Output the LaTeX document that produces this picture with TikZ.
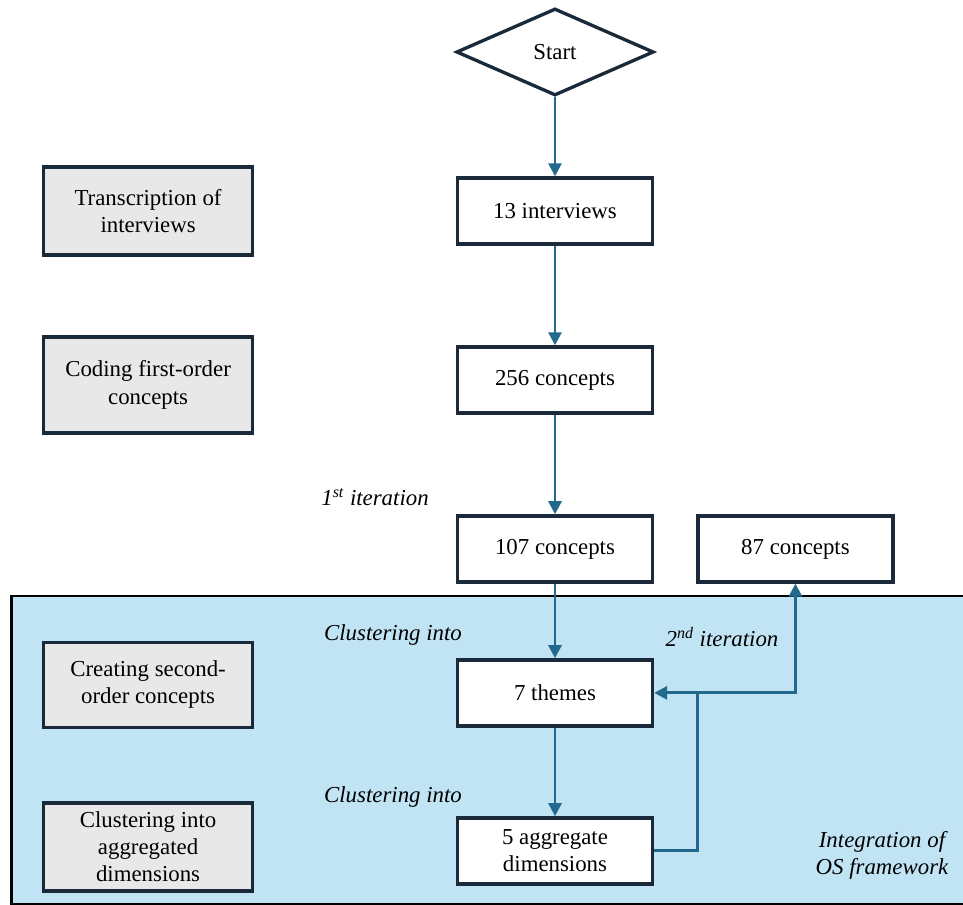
\documentclass[tikz,border=0pt]{standalone}
\usepackage{fontspec}
\setmainfont{Liberation Serif}
\usetikzlibrary{arrows.meta}
\usetikzlibrary{shapes.geometric}

\definecolor{boxline}{HTML}{1B2A3A}
\definecolor{flowblue}{HTML}{22698D}
\definecolor{osblue}{HTML}{C1E4F5}
\definecolor{phasegray}{HTML}{E8E8E8}
\newcommand\flowfont{\fontsize{13}{15.5}\selectfont}

\tikzset{
  count/.style={draw=boxline,line width=1.9pt,fill=white,minimum width=3.9cm,minimum height=1.32cm,align=center,font=\flowfont},
  phase/.style={draw=boxline,line width=1.9pt,fill=phasegray,minimum width=4.18cm,align=center,font=\flowfont},
  note/.style={align=center,font=\flowfont\itshape},
  flow/.style={->,draw=flowblue,line width=1.6pt}
}

\begin{document}
\begin{tikzpicture}[x=0.02cm,y=-0.02cm,>={Triangle[length=0.26cm,width=0.26cm]}]
      \useasboundingbox (0,0) rectangle (963,905);
      % OS framework region
      \draw[fill=osblue,line width=1.5pt] (11.5,596) rectangle (980,904);

      \node (start) [diamond,draw=boxline,line width=1.9pt,fill=white,minimum width=3.95cm,minimum height=1.74cm,inner sep=0pt,font=\flowfont] at (555,52) {Start};
      \node (interviews) [count,below of=start,node distance=3.18cm] {13 interviews};
      \node (c256) [count,below of=interviews,node distance=3.38cm] {256 concepts};
      \node (c107) [count,below of=c256,node distance=3.38cm] {107 concepts};
      \node (c87) [count,right of=c107,node distance=4.81cm] {87 concepts};
      \node (themes) [count,below of=c107,node distance=2.88cm] {7 themes};
      \node (agg) [count,below of=themes,node distance=3.16cm] {5 aggregate\\dimensions};

      \node (transcr) [phase,minimum height=1.76cm,left of=interviews,node distance=8.14cm] {Transcription of\\interviews};
      \node (coding) [phase,minimum height=1.92cm,left of=c256,node distance=8.14cm,yshift=-0.1cm] {Coding first-order\\concepts};
      \node (second) [phase,minimum height=1.7cm,left of=themes,node distance=8.14cm,yshift=0.16cm] {Creating second-\\order concepts};
      \node (aggdim) [phase,minimum height=1.76cm,left of=agg,node distance=8.14cm,yshift=0.08cm] {Clustering into\\aggregated\\dimensions};

      \node (iter1) [note] at (375,497) {1\textsuperscript{st} iteration};
      \node (clus1) [note] at (393,635) {Clustering into};
      \node (iter2) [note] at (722,637) {2\textsuperscript{nd} iteration};
      \node (clus2) [note] at (393,797) {Clustering into};
      \node (osint) [note] at (882,855) {Integration of\\OS framework};

      \draw[flow] (start) -- (interviews);
      \draw[flow] (interviews) -- (c256);
      \draw[flow] (c256) -- (c107);
      \draw[flow] (c107) -- (themes);
      \draw[flow] (themes) -- (agg);
      \path (themes.east) ++(43,0) coordinate (split);
      \draw[flow] (agg.east) -| (split) -- (themes.east);
      \draw[flow] (split) -| (c87.south);
    \end{tikzpicture}
\end{document}
